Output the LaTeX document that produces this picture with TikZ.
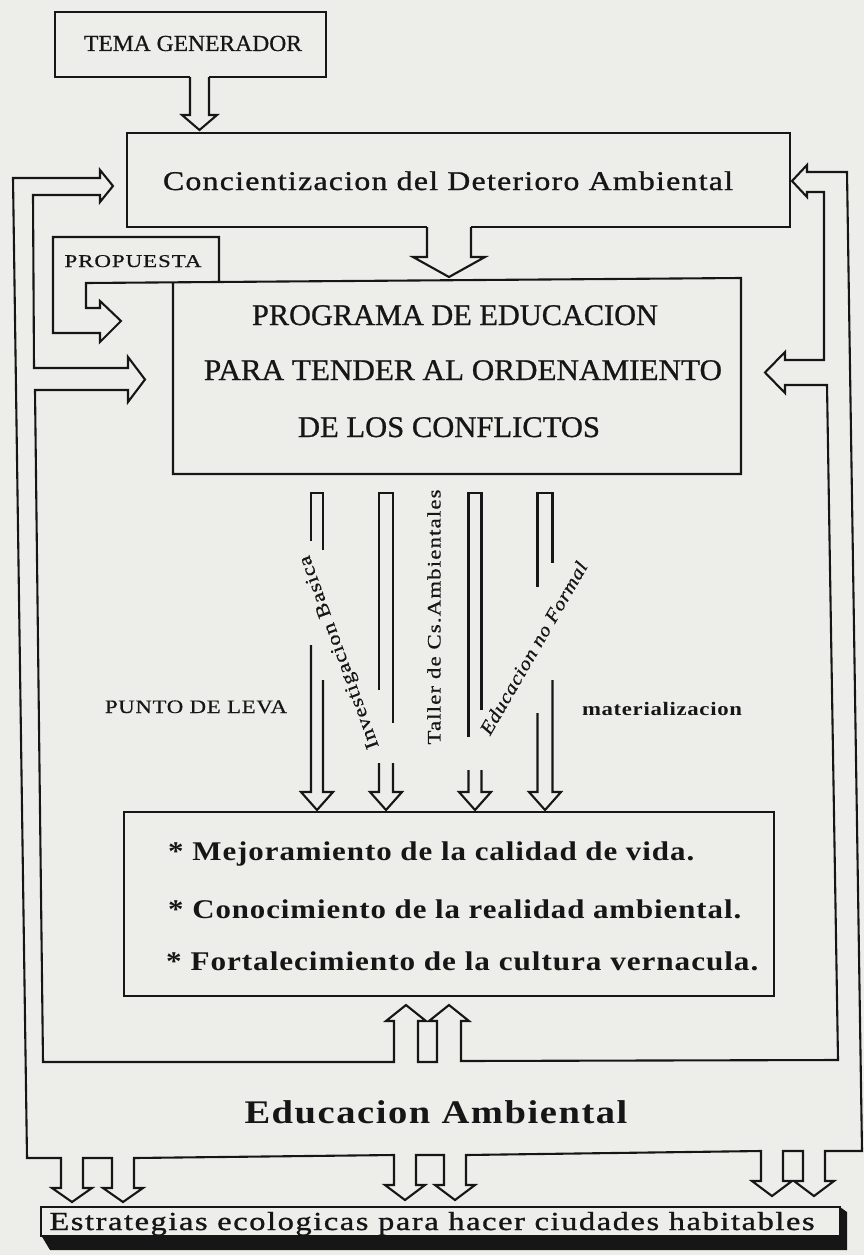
\documentclass[tikz,border=0pt]{standalone}
\usepackage{fontspec}
\setmainfont{Liberation Serif}
\usepackage{graphicx}
\definecolor{paper}{RGB}{237,237,234}
\definecolor{ink}{RGB}{22,22,22}
\newcommand\fitw[3]{\resizebox{#1pt}{\height}{\addfontfeature{#2}#3}}
\begin{document}
\begin{tikzpicture}[x=1pt,y=-1pt,
  ln/.style={draw=ink, line width=2.1pt},
  lbl/.style={inner sep=0pt, text=ink}]
\useasboundingbox (0,0) rectangle (864,1255);
\fill[paper] (0,0) rectangle (864,1255);

% ---- TEMA GENERADOR box and arrow
\draw[ln] (190,77) -- (55,77) -- (55,12) -- (326,12) -- (326,77) -- (209,77);
\draw[ln] (190,77) -- (190,115) -- (182,115) -- (199.5,130) -- (217,115) -- (209,115) -- (209,77);
\node[lbl, anchor=base, font=\fontsize{23}{27}\selectfont] (tema) at (193,51) {\fitw{218}{LetterSpace=0,FakeBold=0.6}{TEMA GENERADOR}};

% ---- Concientizacion box and arrow
\draw[ln] (427,227) -- (127,227) -- (127,133) -- (790,133) -- (790,227) -- (471,227);
\draw[ln] (427,227) -- (427,257) -- (413,257) -- (449,277) -- (485,257) -- (471,257) -- (471,227);
\node[lbl, anchor=base, font=\fontsize{27}{32}\selectfont] (conc) at (448,190) {\fitw{570}{LetterSpace=4,FakeBold=1}{Concientizacion del Deterioro Ambiental}};

% ---- PROPUESTA and Programa box
\draw[ln] (219,282.5) -- (219,237) -- (53,237) -- (53,333) -- (100,333) -- (100,342) -- (121,321) -- (100,301) -- (100,308) -- (86,308) -- (86,283) -- (741,278) -- (741,474) -- (173,474) -- (173,282.3);
\node[lbl, anchor=base, font=\fontsize{18}{22}\selectfont] (prop) at (133,267) {\fitw{137}{LetterSpace=4,FakeBold=0.6}{PROPUESTA}};
\node[lbl, anchor=base, font=\fontsize{30}{36}\selectfont] (prog1) at (455,325) {\fitw{406}{LetterSpace=0,FakeBold=0.8}{PROGRAMA DE EDUCACION}};
\node[lbl, anchor=base, font=\fontsize{30}{36}\selectfont] (prog2) at (463,380) {\fitw{518}{LetterSpace=0,FakeBold=0.8}{PARA TENDER AL ORDENAMIENTO}};
\node[lbl, anchor=base, font=\fontsize{30}{36}\selectfont] (prog3) at (449,437) {\fitw{302}{LetterSpace=0,FakeBold=0.8}{DE LOS CONFLICTOS}};

% ---- big ring (Educacion Ambiental)
\draw[ln] (100,178) -- (100,170) -- (113,186) -- (100,202) -- (100,195) -- (33,195) -- (34,368)
 -- (128,368) -- (128,357) -- (145,379.5) -- (128,402) -- (128,390) -- (35,390) -- (43,1062)
 -- (394,1062) -- (394,1021) -- (386,1021) -- (406,1005) -- (426,1021) -- (418,1021) -- (418,1062)
 -- (437,1062) -- (437,1021) -- (429,1021) -- (449,1005) -- (469,1021) -- (461,1021) -- (461,1061)
 -- (838,1060) -- (827,385) -- (785,385) -- (785,393) -- (765,372.5) -- (785,352) -- (785,360)
 -- (824,360) -- (824,192) -- (807,192) -- (807,197) -- (792,181) -- (807,165) -- (807,172)
 -- (847,172) -- (862,1151)
 -- (825,1151) -- (825,1181) -- (834,1181) -- (814,1196) -- (794,1181) -- (803,1181) -- (803,1151)
 -- (783,1151) -- (783,1181) -- (792,1181) -- (772,1196) -- (752,1181) -- (761,1181) -- (761,1151)
 -- (466,1155) -- (466,1185) -- (475,1185) -- (455,1200) -- (435,1185) -- (444,1185) -- (444,1155)
 -- (416,1155) -- (416,1185) -- (425,1185) -- (405,1200) -- (385,1185) -- (394,1185) -- (394,1155)
 -- (134,1158) -- (134,1188) -- (143,1188) -- (123,1202) -- (103,1188) -- (112,1188) -- (112,1158)
 -- (83,1158) -- (83,1188) -- (92,1188) -- (72,1202) -- (52,1188) -- (61,1188) -- (61,1158)
 -- (27,1158) -- (13,178) -- cycle;

% ---- four thin arrows
\draw[ln] (311,541) -- (311,493) -- (323,493) -- (323,550);
\draw[ln] (311,645) -- (311,792) -- (301,792) -- (317,810) -- (333,792) -- (323,792) -- (323,680);
\draw[ln] (379,690) -- (379,493) -- (393,493) -- (393,723);
\draw[ln] (379,763) -- (379,792) -- (370,792) -- (386,810) -- (402,792) -- (393,792) -- (393,763);
\draw[ln] (468.5,737) -- (468.5,493) -- (481.5,493) -- (481.5,710);
\draw[ln] (468.5,770) -- (468.5,792) -- (459,792) -- (475,810) -- (491,792) -- (481.5,792) -- (481.5,770);
\draw[ln] (537.5,587) -- (537.5,493) -- (552.5,493) -- (552.5,563);
\draw[ln] (537.5,713) -- (537.5,792) -- (529,792) -- (545,810) -- (561,792) -- (552.5,792) -- (552.5,680);

\node[lbl, rotate=110, font=\fontsize{19}{23}\selectfont] (inv) at (340,652) {\fitw{204}{LetterSpace=4,FakeBold=0.6}{Investigacion Basica}};
\node[lbl, rotate=90, font=\fontsize{19}{23}\selectfont] (taller) at (434,617) {\fitw{255}{LetterSpace=5,FakeBold=0.6}{Taller de Cs.Ambientales}};
\node[lbl, rotate=60, font=\fontsize{19}{23}\selectfont\itshape] (edu) at (533.5,648) {\fitw{196}{LetterSpace=3,FakeBold=0.6}{Educacion no Formal}};
\node[lbl, anchor=base, font=\fontsize{19}{23}\selectfont] (punto) at (196,713) {\fitw{182}{LetterSpace=3,FakeBold=0.6}{PUNTO DE LEVA}};
\node[lbl, anchor=base, font=\fontsize{19}{23}\selectfont\bfseries] (mater) at (662,715) {\fitw{160}{LetterSpace=3}{materializacion}};

% ---- results box
\draw[ln] (124,812) rectangle (774,996);
\node[lbl, anchor=base west, font=\fontsize{27}{32}\selectfont\bfseries] (res1) at (168,860) {\fitw{526}{LetterSpace=3}{* Mejoramiento de la calidad de vida.}};
\node[lbl, anchor=base west, font=\fontsize{27}{32}\selectfont\bfseries] (res2) at (168,918) {\fitw{573}{LetterSpace=3}{* Conocimiento de la realidad ambiental.}};
\node[lbl, anchor=base west, font=\fontsize{27}{32}\selectfont\bfseries] (res3) at (166,970) {\fitw{592}{LetterSpace=3}{* Fortalecimiento de la cultura vernacula.}};

% ---- Educacion Ambiental
\node[lbl, anchor=base, font=\fontsize{33}{40}\selectfont\bfseries] (eamb) at (436,1123) {\fitw{383}{LetterSpace=4}{Educacion Ambiental}};

% ---- Estrategias box
\fill[ink] (41,1235) -- (840,1235) -- (840,1207) -- (847,1212) -- (847,1250) -- (50,1250) -- cycle;
\draw[ln, fill=paper] (41,1207) rectangle (840,1236);
\node[lbl, anchor=base, font=\fontsize{26}{30}\selectfont] (estr) at (432,1230) {\fitw{765}{LetterSpace=5,FakeBold=1}{Estrategias ecologicas para hacer ciudades habitables}};
\end{tikzpicture}
\end{document}
